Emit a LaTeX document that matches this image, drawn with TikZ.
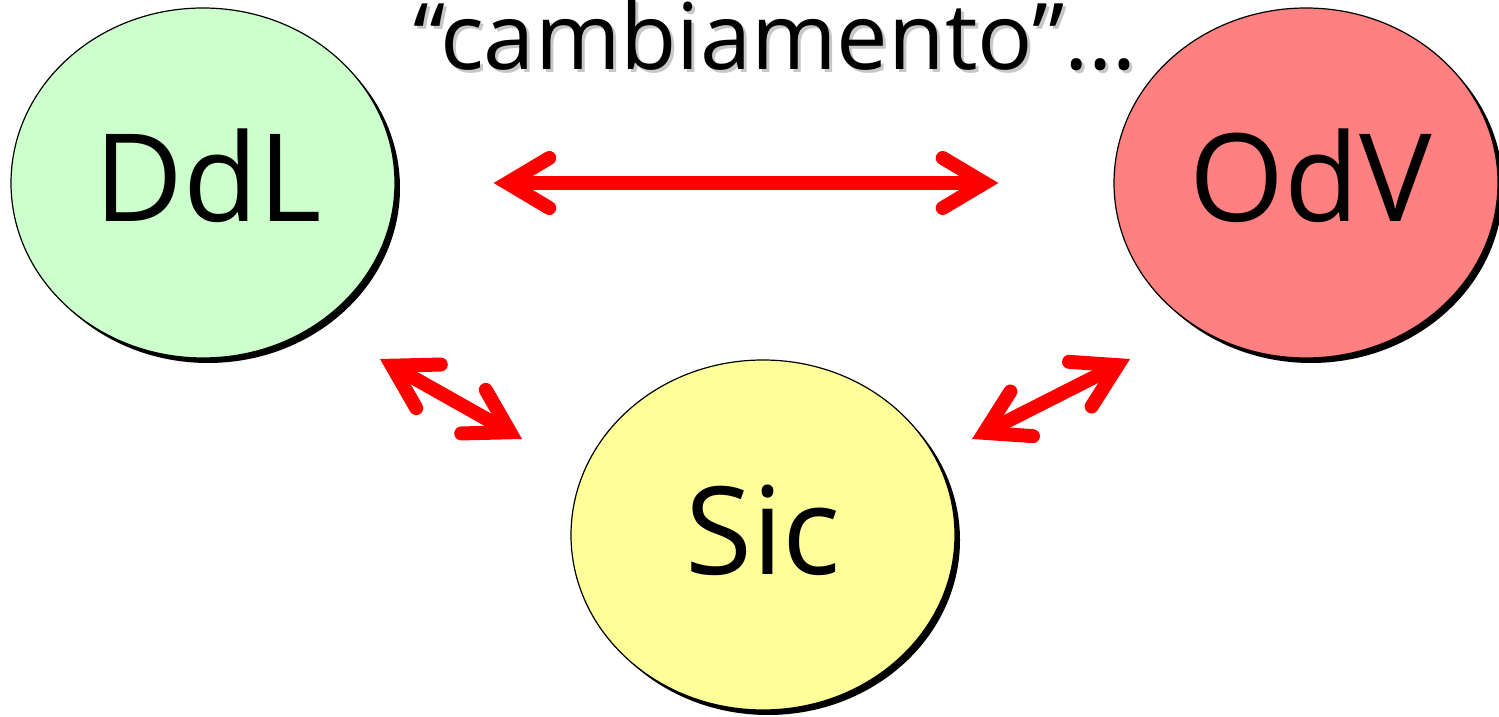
\documentclass[tikz,border=0pt]{standalone}
\usepackage{fontspec}
\setmainfont{Open Sans}
\usetikzlibrary{arrows.meta,shadows,calc,shapes.geometric}
\definecolor{ddlgreen}{RGB}{204,255,204}
\definecolor{odvred}{RGB}{255,128,128}
\definecolor{sicyellow}{RGB}{255,255,153}
\definecolor{arrred}{RGB}{255,0,0}
\tikzset{
  bubble/.style={ellipse, draw=black, line width=1.2pt, minimum width=384pt, minimum height=350pt,
    inner sep=0pt, drop shadow={shadow xshift=5pt, shadow yshift=-5pt, opacity=1, fill=black},
    font=\fontsize{122}{122}\selectfont},
  dblarrow/.style={draw=arrred, line width=14pt,
    arrows={Straight Barb[length=42pt,width=50pt,line cap=round,line join=miter]-Straight Barb[length=42pt,width=50pt,line cap=round,line join=miter]}},
  titletext/.style={font=\fontsize{92}{92}\selectfont, inner sep=0pt}
}
\begin{document}
\begin{tikzpicture}[x=1pt,y=1pt]
\useasboundingbox (0,0) rectangle (1499,717);
\node[bubble, fill=ddlgreen] (DdL) at (203,534) {};
\node[bubble, fill=odvred] (OdV) at (1306,534) {};
\node[bubble, fill=sicyellow] (Sic) at (763,182) {};
\node[font=\fontsize{122}{122}\selectfont, inner sep=0pt] (DdLtext) at (208,541) {DdL};
\node[font=\fontsize{122}{122}\selectfont, inner sep=0pt] (OdVtext) at (1311,541) {OdV};
\node[font=\fontsize{122}{122}\selectfont, inner sep=0pt] (Sictext) at (763,187) {Sic};
\node[titletext, text=black!22] (titleshadow) at (778,679) {“cambiamento”…};
\node[titletext] (title) at (775,682) {“cambiamento”…};
\coordinate (a1) at (380,358);
\coordinate (a2) at (522,278);
\coordinate (b1) at (972,278);
\coordinate (b2) at (1130,358);
\draw[dblarrow, shorten <=98pt, shorten >=115pt] (DdL.east) -- (OdV.west);
\draw[dblarrow] (a1) -- (a2);
\draw[dblarrow] (b1) -- (b2);
\end{tikzpicture}
\end{document}
